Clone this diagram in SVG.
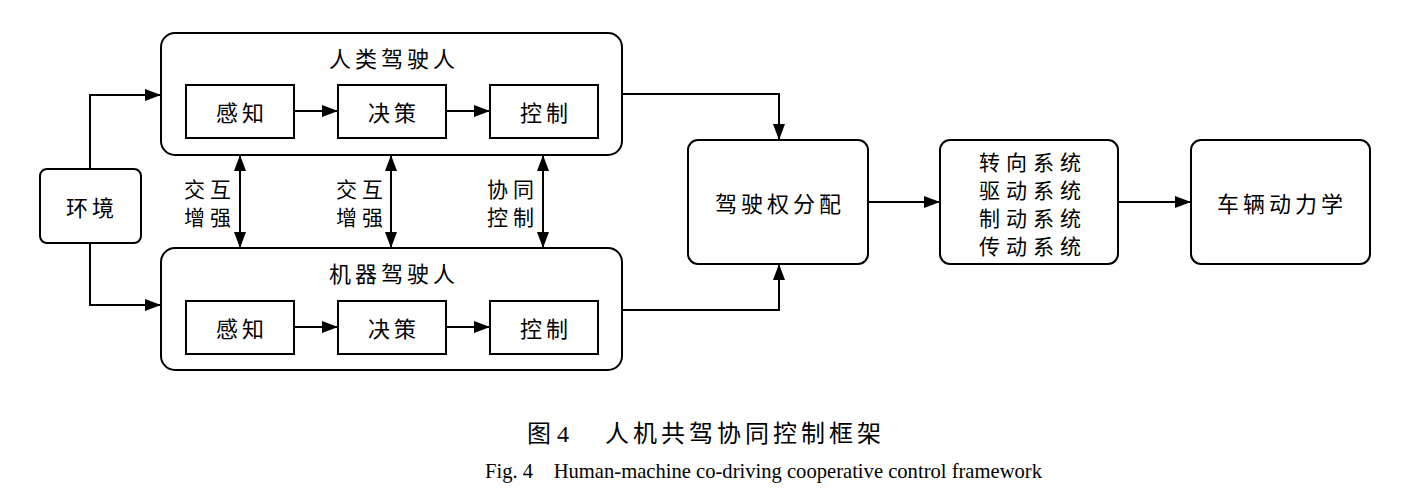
<svg xmlns="http://www.w3.org/2000/svg" width="1416" height="500" viewBox="0 0 1416 500">
<style>
.b{fill:#fff;stroke:#000;stroke-width:2}
.t{font-family:"Noto Sans CJK SC","Noto Sans",sans-serif;font-size:22px;fill:#000;text-anchor:middle;dominant-baseline:central;letter-spacing:4px}
.s{font-family:"Noto Sans CJK SC","Noto Sans",sans-serif;font-size:21px;fill:#000;text-anchor:middle;dominant-baseline:central;letter-spacing:5px}
.y{font-family:"Noto Sans CJK SC","Noto Sans",sans-serif;font-size:21px;fill:#000;text-anchor:middle;dominant-baseline:central;letter-spacing:6px}
.c{fill:none;stroke:#000;stroke-width:2}
.cap{font-family:"Noto Sans CJK SC",sans-serif;font-size:24px;fill:#000;letter-spacing:4px}
.en{font-family:"Liberation Serif",serif;font-size:20.6px;fill:#000}
</style>
<defs>
<marker id="ah" markerWidth="16" markerHeight="12" refX="15" refY="6" orient="auto" markerUnits="userSpaceOnUse"><path d="M0,0 L16,6 L0,12 Z" fill="#000"/></marker>
<marker id="as" markerWidth="16" markerHeight="12" refX="1" refY="6" orient="auto" markerUnits="userSpaceOnUse"><path d="M16,0 L0,6 L16,12 Z" fill="#000"/></marker>
</defs>
<rect width="1416" height="500" fill="#fff"/>
<g id="env"><rect class="b" x="40" y="169" width="101" height="74" rx="7"/><text class="t" x="92" y="206">环境</text></g>
<g id="human"><rect class="b" x="161" y="33" width="461" height="122" rx="14"/><text class="t" x="394" y="57">人类驾驶人</text>
<g id="h1"><rect class="b" x="186" y="85" width="108" height="53"/><text class="t" x="242" y="111">感知</text></g>
<g id="h2"><rect class="b" x="338" y="85" width="108" height="53"/><text class="t" x="394" y="111">决策</text></g>
<g id="h3"><rect class="b" x="490" y="85" width="108" height="53"/><text class="t" x="546" y="111">控制</text></g>
</g>
<g id="machine"><rect class="b" x="161" y="248" width="461" height="122" rx="14"/><text class="t" x="394" y="272">机器驾驶人</text>
<g id="m1"><rect class="b" x="186" y="301" width="108" height="53"/><text class="t" x="242" y="327">感知</text></g>
<g id="m2"><rect class="b" x="338" y="301" width="108" height="53"/><text class="t" x="394" y="327">决策</text></g>
<g id="m3"><rect class="b" x="490" y="301" width="108" height="53"/><text class="t" x="546" y="327">控制</text></g>
</g>
<g id="alloc"><rect class="b" x="688" y="140" width="180" height="124" rx="10"/><text class="t" x="780" y="202">驾驶权分配</text></g>
<g id="sys"><rect class="b" x="940" y="140" width="178" height="124" rx="10"/>
<text class="y" x="1033" y="161">转向系统</text><text class="y" x="1033" y="189">驱动系统</text><text class="y" x="1033" y="217">制动系统</text><text class="y" x="1033" y="245">传动系统</text></g>
<g id="veh"><rect class="b" x="1191" y="140" width="179" height="124" rx="10"/><text class="t" x="1282" y="202">车辆动力学</text></g>
<g id="labels">
<text class="s" x="210" y="188">交互</text><text class="s" x="210" y="216">增强</text>
<text class="s" x="362" y="188">交互</text><text class="s" x="362" y="216">增强</text>
<text class="s" x="513" y="188">协同</text><text class="s" x="513" y="216">控制</text>
</g>
<g id="connectors">
<path class="c" d="M90,169 V95 H160" marker-end="url(#ah)"/>
<path class="c" d="M90,243 V305 H160" marker-end="url(#ah)"/>
<path class="c" d="M294,111 H337" marker-end="url(#ah)"/>
<path class="c" d="M446,111 H489" marker-end="url(#ah)"/>
<path class="c" d="M294,327 H337" marker-end="url(#ah)"/>
<path class="c" d="M446,327 H489" marker-end="url(#ah)"/>
<path class="c" d="M240,156 V247" marker-start="url(#as)" marker-end="url(#ah)"/>
<path class="c" d="M391,156 V247" marker-start="url(#as)" marker-end="url(#ah)"/>
<path class="c" d="M543,156 V247" marker-start="url(#as)" marker-end="url(#ah)"/>
<path class="c" d="M622,94 H779 V139" marker-end="url(#ah)"/>
<path class="c" d="M622,310 H779 V265" marker-end="url(#ah)"/>
<path class="c" d="M868,202 H939" marker-end="url(#ah)"/>
<path class="c" d="M1118,202 H1190" marker-end="url(#ah)"/>
</g>
<g id="caption">
<text x="527" y="442" class="cap"><tspan font-family="Liberation Serif, Noto Sans CJK SC, serif" letter-spacing="0">图 4</tspan><tspan x="605">人机共驾协同控制框架</tspan></text>
<text x="485" y="478" class="en" xml:space="preserve">Fig. 4    Human-machine co-driving cooperative control framework</text>
</g>
</svg>
